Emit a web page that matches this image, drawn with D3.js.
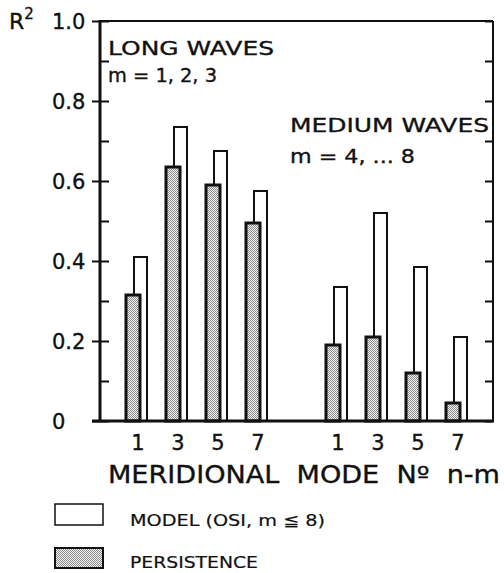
<!DOCTYPE html>
<html lang="en">
<head>
<meta charset="utf-8">
<title>R2 by meridional mode</title>
<script src="https://d3js.org/d3.v7.js"></script>
<style>
  body { margin: 0; background: #fff; }
  svg text { font-family: "DejaVu Sans", sans-serif; fill: #111; stroke: #111; stroke-width: 0.35; }
</style>
</head>
<body>
<svg id="chart"></svg>
<script>
// values
const modes = ["1", "3", "5", "7"];
const slots = ["L1", "L3", "L5", "L7", "gap", "M1", "M3", "M5", "M7"];
const longKeys = ["L1", "L3", "L5", "L7"];
const mediumKeys = ["M1", "M3", "M5", "M7"];
const modelLong = [0.41, 0.735, 0.675, 0.575];
const persistenceLong = [0.315, 0.635, 0.59, 0.495];
const modelMedium = [0.335, 0.52, 0.385, 0.21];
const persistenceMedium = [0.19, 0.21, 0.12, 0.045];
const majorTicks = [0, 0.2, 0.4, 0.6, 0.8, 1.0];
const majorLabels = ["0", "0.2", "0.4", "0.6", "0.8", "1.0"];
const minorTicks = d3.range(0, 11).map(d => d / 10);

const w = 504, h = 573;
const pLeft = 100, pRight = 493, pTop = 21, pBottom = 421;

const svg = d3.select("#chart").attr("width", w).attr("height", h);

// stipple for the persistence bars
const pat = svg.append("defs").append("pattern")
    .attr("id", "stip").attr("patternUnits", "userSpaceOnUse")
    .attr("width", 2).attr("height", 2);
pat.append("rect").attr("width", 2).attr("height", 2).attr("fill", "#f2f2f2");
pat.append("rect").attr("width", 1).attr("height", 1).attr("fill", "#8c8c8c");
pat.append("rect").attr("x", 1).attr("y", 1).attr("width", 1).attr("height", 1).attr("fill", "#8c8c8c");

const y = d3.scaleLinear().domain([0, 1]).range([pBottom, pTop]);
const x = d3.scalePoint().domain(slots).range([138, 458]);

const bars = [];
longKeys.forEach((k, i) => bars.push({key: k, label: modes[i], model: modelLong[i], pers: persistenceLong[i]}));
mediumKeys.forEach((k, i) => bars.push({key: k, label: modes[i], model: modelMedium[i], pers: persistenceMedium[i]}));

// model bars (open) behind
svg.append("g").selectAll("rect").data(bars).join("rect")
    .attr("x", d => x(d.key) - 4)
    .attr("width", 13)
    .attr("y", d => y(d.model))
    .attr("height", d => y(0) - y(d.model))
    .attr("fill", "#fff").attr("stroke", "#111").attr("stroke-width", 2);

// persistence bars (stippled) in front
svg.append("g").selectAll("rect").data(bars).join("rect")
    .attr("x", d => x(d.key) - 12)
    .attr("width", 14)
    .attr("y", d => y(d.pers))
    .attr("height", d => y(0) - y(d.pers))
    .attr("fill", "url(#stip)").attr("stroke", "#111").attr("stroke-width", 3);

// ticks
const tickStyle = g => {
  g.select(".domain").remove();
  g.selectAll("text").remove();
  g.selectAll("line").attr("stroke", "#111").attr("stroke-width", 2);
};
svg.append("g").attr("transform", `translate(${pLeft},0)`)
    .call(d3.axisLeft(y).tickValues(majorTicks).tickSize(8)).call(tickStyle);
svg.append("g").attr("transform", `translate(${pLeft},0)`)
    .call(d3.axisRight(y).tickValues(minorTicks).tickSize(9)).call(tickStyle);
svg.append("g").attr("transform", `translate(${pRight},0)`)
    .call(d3.axisLeft(y).tickValues(minorTicks).tickSize(8)).call(tickStyle);

// frame
svg.append("line").attr("x1", pRight).attr("x2", pRight).attr("y1", pTop).attr("y2", pBottom)
    .attr("stroke", "#111").attr("stroke-width", 2);
svg.append("line").attr("x1", pLeft).attr("x2", pRight).attr("y1", pTop).attr("y2", pTop)
    .attr("stroke", "#111").attr("stroke-width", 2);
svg.append("line").attr("x1", pLeft).attr("x2", pLeft).attr("y1", pTop - 1).attr("y2", pBottom)
    .attr("stroke", "#111").attr("stroke-width", 3);
svg.append("line").attr("x1", pLeft - 8).attr("x2", pRight + 1).attr("y1", pBottom).attr("y2", pBottom)
    .attr("stroke", "#111").attr("stroke-width", 3);

// y labels
svg.append("g").selectAll("text").data(majorTicks).join("text")
    .attr("x", 52).attr("y", d => y(d) + 8)
    .attr("font-size", 21)
    .text((d, i) => majorLabels[i]);

const r2 = svg.append("text").attr("x", 9).attr("y", 29).attr("font-size", 22).text("R");
r2.append("tspan").attr("dy", -10).attr("font-size", 15).text("2");

// x labels
svg.append("g").selectAll("text").data(bars).join("text")
    .attr("x", d => x(d.key)).attr("y", 450)
    .attr("text-anchor", "middle").attr("font-size", 21)
    .text(d => d.label);

const txt = (s, tx, ty, size, len) => svg.append("text")
    .attr("x", tx).attr("y", ty).attr("font-size", size)
    .attr("textLength", len).attr("lengthAdjust", "spacingAndGlyphs")
    .text(s);

txt("MERIDIONAL  MODE  Nº  n-m", 108, 483, 24, 392).style("white-space", "pre");
txt("LONG WAVES", 108, 55, 20, 166);
txt("m = 1, 2, 3", 108, 82, 20, 109);
txt("MEDIUM WAVES", 290, 132, 20, 199);
txt("m = 4, ... 8", 290, 163, 20, 125);

// legend
svg.append("rect").attr("x", 55).attr("y", 504).attr("width", 48).attr("height", 21)
    .attr("fill", "#fff").attr("stroke", "#111").attr("stroke-width", 1.5);
svg.append("rect").attr("x", 55).attr("y", 548).attr("width", 48).attr("height", 20)
    .attr("fill", "url(#stip)").attr("stroke", "#111").attr("stroke-width", 2);
txt("MODEL (OSI, m ≦ 8)", 130, 526, 16, 195).style("stroke-width", 0.2);
txt("PERSISTENCE", 130, 568, 16, 128).style("stroke-width", 0.2);
</script>
</body>
</html>
